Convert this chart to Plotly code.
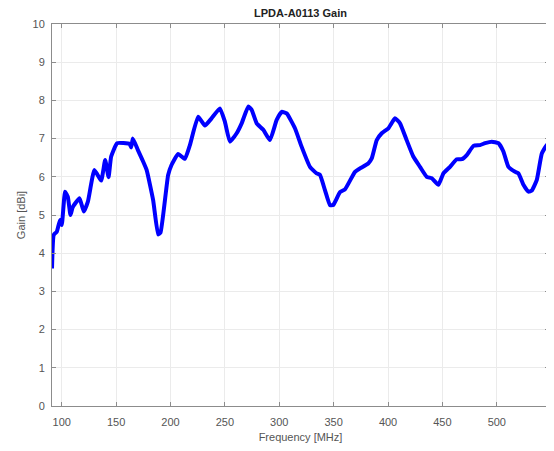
import plotly.graph_objects as go

freq_mhz = [91.0, 92.6, 95.4, 98.4, 100.0, 103.0, 105.5, 108.0, 110.0, 116.3, 120.2, 124.0,
            130.0, 136.2, 139.9, 143.0, 145.4, 150.9, 162.3, 163.8, 165.3, 170.0, 174.0,
            178.0, 184.0, 188.6, 190.8, 197.8, 200.9, 207.0, 213.2, 217.8, 225.4, 231.6,
            237.7, 245.4, 250.0, 254.6, 260.8, 265.4, 271.5, 274.6, 279.2, 285.3, 291.4,
            297.6, 302.2, 306.8, 314.4, 320.5, 328.2, 334.3, 337.4, 342.0, 346.6, 349.6,
            355.8, 360.4, 369.6, 374.2, 381.8, 385.0, 389.6, 394.2, 400.3, 406.4, 411.0,
            417.1, 423.2, 429.4, 435.6, 440.2, 446.3, 450.9, 457.0, 463.2, 467.8, 472.4,
            478.5, 484.6, 489.2, 495.4, 501.5, 506.1, 510.7, 516.8, 519.9, 524.5, 529.1,
            532.2, 536.8, 541.4, 546.0, 548.0]
gain_dbi = [3.6, 4.48, 4.56, 4.87, 4.74, 5.61, 5.48, 5.0, 5.2, 5.44, 5.09, 5.35,
            6.18, 5.9, 6.44, 5.99, 6.53, 6.88, 6.86, 6.77, 7.0, 6.7, 6.45,
            6.18, 5.39, 4.49, 4.54, 6.05, 6.31, 6.6, 6.47, 6.83, 7.57, 7.34,
            7.53, 7.79, 7.44, 6.92, 7.14, 7.4, 7.84, 7.75, 7.4, 7.23, 6.96,
            7.49, 7.7, 7.66, 7.27, 6.79, 6.26, 6.09, 6.05, 5.65, 5.26, 5.26,
            5.6, 5.67, 6.13, 6.22, 6.35, 6.48, 6.96, 7.14, 7.27, 7.53, 7.4,
            6.96, 6.53, 6.26, 6.0, 5.96, 5.79, 6.09, 6.26, 6.46, 6.46, 6.57,
            6.81, 6.83, 6.88, 6.92, 6.88, 6.66, 6.26, 6.13, 6.09, 5.79, 5.61,
            5.64, 5.92, 6.61, 6.83, 6.83]

x_ticks = [100, 150, 200, 250, 300, 350, 400, 450, 500]
y_ticks = [0, 1, 2, 3, 4, 5, 6, 7, 8, 9, 10]

fig = go.Figure()
fig.add_trace(go.Scatter(
    x=freq_mhz, y=gain_dbi, mode="lines",
    line=dict(color="#0000ff", width=4, shape="spline", smoothing=0.4),
    showlegend=False, hoverinfo="skip"))

axis_common = dict(
    showline=True, linecolor="#8c8c8c", linewidth=1, mirror="allticks",
    ticks="inside", ticklen=4, tickcolor="#8c8c8c",
    showgrid=True, gridcolor="#ebebeb", gridwidth=1, zeroline=False,
    tickfont=dict(family="Liberation Sans, Arial", size=11, color="#555555"),
)

fig.update_layout(
    width=546, height=443,
    margin=dict(l=44, r=5, t=16, b=45),
    paper_bgcolor="white", plot_bgcolor="white",
    title=dict(text="<b>LPDA-A0113 Gain</b>", xref="paper", x=0.5, xanchor="center",
               yref="container", y=1, yanchor="top", pad=dict(t=1, b=0),
               font=dict(family="Liberation Sans, Arial", size=11, color="#222222")),
    xaxis=dict(range=[91, 548], tickvals=x_ticks, ticktext=[str(v) for v in x_ticks],
               ticklabelstandoff=6,
               title=dict(text="Frequency [MHz]", standoff=6,
                          font=dict(family="Liberation Sans, Arial", size=11, color="#555555")),
               **axis_common),
    yaxis=dict(range=[0, 10], tickvals=y_ticks, ticktext=[str(v) for v in y_ticks],
               ticklabelstandoff=4,
               title=dict(text="Gain [dBi]", standoff=4,
                          font=dict(family="Liberation Sans, Arial", size=11, color="#555555")),
               **axis_common),
)

fig.write_html("out.html")
